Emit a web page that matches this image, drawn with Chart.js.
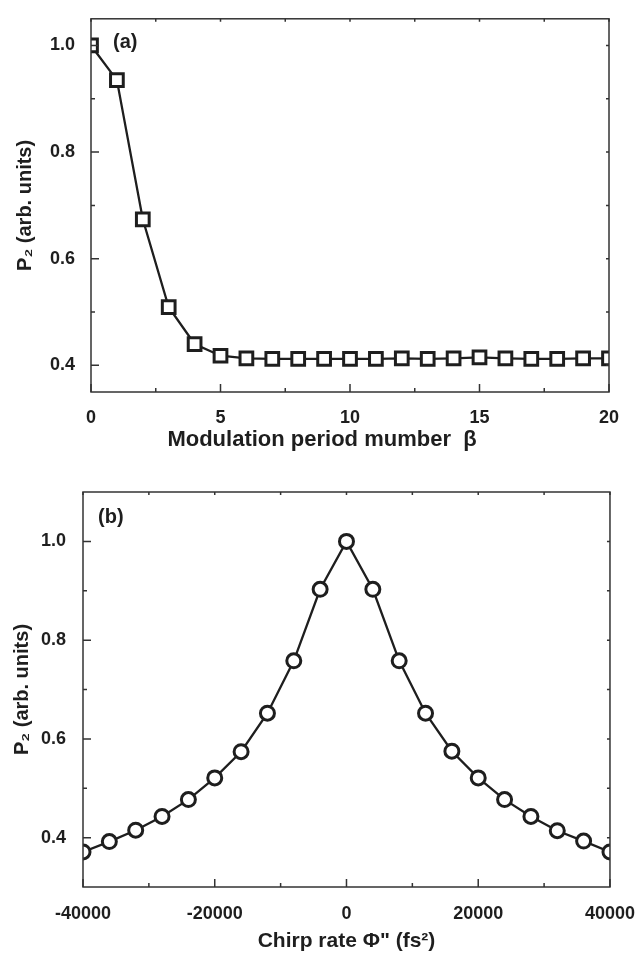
<!DOCTYPE html>
<html><head><meta charset="utf-8">
<script src="https://cdn.jsdelivr.net/npm/chart.js@4/dist/chart.umd.min.js"></script>
<style>
html,body{margin:0;padding:0;background:#fff;width:643px;height:955px;overflow:hidden}
canvas{position:absolute;left:0}
#c1{top:0}
#c2{top:470px}
</style></head><body>
<canvas id="c1" width="643" height="470"></canvas>
<canvas id="c2" width="643" height="485"></canvas>
<script>
// ---- data ----
const periodNumbers = [0,1,2,3,4,5,6,7,8,9,10,11,12,13,14,15,16,17,18,19,20];
const p2ByPeriod = [1.000,0.935,0.674,0.509,0.440,0.418,0.413,0.412,0.412,0.412,0.412,0.412,0.413,0.412,0.413,0.415,0.413,0.412,0.412,0.413,0.413];
const chirpRates = [-40000,-36000,-32000,-28000,-24000,-20000,-16000,-12000,-8000,-4000,0,4000,8000,12000,16000,20000,24000,28000,32000,36000,40000];
const p2ByChirp = [0.371,0.392,0.415,0.443,0.477,0.521,0.574,0.652,0.758,0.903,1.000,0.903,0.758,0.652,0.575,0.521,0.477,0.443,0.414,0.393,0.371];

// ---- tick values ----
const topXMajor = [0,5,10,15,20];
const topXMinor = [2.5,7.5,12.5,17.5];
const topYMajor = [0.4,0.6,0.8,1.0];
const topYMinor = [0.5,0.7,0.9];
const botXMajor = [-40000,-20000,0,20000,40000];
const botXMinor = [-30000,-10000,10000,30000];
const botYMajor = [0.4,0.6,0.8,1.0];
const botYMinor = [0.5,0.7,0.9];

const FONT = "'Liberation Sans', Arial, Helvetica, sans-serif";
const INK = '#1e1e1e';

const frameTicks = {
  id: 'frameTicks',
  afterDatasetsDraw(chart, args, o) {
    const {ctx, chartArea: a, scales: {x, y}} = chart;
    ctx.save();
    ctx.strokeStyle = '#333';
    ctx.lineWidth = 1.5;
    ctx.beginPath();
    const line = (x1,y1,x2,y2)=>{ctx.moveTo(x1,y1);ctx.lineTo(x2,y2);};
    o.xMajor.forEach(v=>{const p=x.getPixelForValue(v); line(p,a.bottom,p,a.bottom-8); line(p,a.top,p,a.top+3);});
    o.xMinor.forEach(v=>{const p=x.getPixelForValue(v); line(p,a.bottom,p,a.bottom-4); line(p,a.top,p,a.top+3);});
    o.yMajor.forEach(v=>{const p=y.getPixelForValue(v); line(a.left,p,a.left+8,p); line(a.right,p,a.right-3,p);});
    o.yMinor.forEach(v=>{const p=y.getPixelForValue(v); line(a.left,p,a.left+4,p); line(a.right,p,a.right-3,p);});
    ctx.stroke();
    ctx.strokeRect(a.left, a.top, a.right-a.left, a.bottom-a.top);
    ctx.fillStyle = INK;
    ctx.font = 'bold 20px ' + FONT;
    ctx.textBaseline = 'middle';
    ctx.textAlign = 'left';
    ctx.fillText(o.label, o.labelX, o.labelY);
    if (o.xTitle) {
      ctx.font = 'bold ' + o.xTitleSize + 'px ' + FONT;
      ctx.textAlign = 'center';
      ctx.fillText(o.xTitle, o.xTitleX, o.xTitleY);
    }
    ctx.restore();
  }
};

function makeChart(id, cfg) {
  const xs = cfg.xVals, ys = cfg.yVals;
  return new Chart(document.getElementById(id), {
    type: 'line',
    data: { datasets: [{
      data: xs.map((v,i)=>({x:v, y:ys[i]})),
      borderColor: INK, borderWidth: 2.3,
      pointStyle: cfg.pointStyle, pointRadius: cfg.pointRadius,
      pointBackgroundColor: '#fff', pointBorderColor: INK, pointBorderWidth: 3,
      tension: 0, clip: 0
    }]},
    plugins: [frameTicks],
    options: {
      responsive: false, animation: false, devicePixelRatio: 1,
      layout: { padding: { left: 0, top: cfg.top, right: cfg.right, bottom: 0 } },
      plugins: {
        legend: {display:false}, tooltip:{enabled:false},
        frameTicks: { xMajor: cfg.xMajor, xMinor: cfg.xMinor, yMajor: cfg.yMajor, yMinor: cfg.yMinor,
          label: cfg.label, labelX: cfg.labelX, labelY: cfg.labelY,
          xTitle: cfg.ownTitle ? cfg.xTitle : null, xTitleX: cfg.xTitleX, xTitleY: cfg.xTitleY,
          xTitleSize: cfg.xTitleSize }
      },
      scales: {
        x: {
          type: 'linear', min: cfg.xMin, max: cfg.xMax,
          grid: {display:false}, border: {display:false},
          afterBuildTicks: s => { s.ticks = cfg.xMajor.map(v=>({value:v})); },
          afterFit: s => { s.height = cfg.xAxisH; },
          ticks: { padding: cfg.xPad, color: INK, font: {family: FONT, size: 18, weight: 'bold'},
            maxRotation: 0, autoSkip: false, callback: v => String(v) },
          title: { display: !cfg.ownTitle, text: cfg.xTitle, color: INK,
            font: {family: FONT, size: cfg.xTitleSize, weight: 'bold'}, padding: {top:0, bottom: cfg.xTitlePad} }
        },
        y: {
          type: 'linear', min: cfg.yMin, max: cfg.yMax,
          grid: {display:false}, border: {display:false},
          afterBuildTicks: s => { s.ticks = cfg.yMajor.map(v=>({value:v})); },
          afterFit: s => { s.width = cfg.yAxisW; },
          ticks: { padding: cfg.yPad, color: INK, font: {family: FONT, size: 18, weight: 'bold'},
            callback: v => Number(v).toFixed(1) },
          title: { display: true, text: 'P₂ (arb. units)', color: INK,
            font: {family: FONT, size: 20, weight: 'bold'}, padding: {top: cfg.yTitlePad, bottom: 0} }
        }
      }
    }
  });
}

makeChart('c1', {
  xVals: periodNumbers, yVals: p2ByPeriod, pointStyle: 'rect', pointRadius: 9,
  xMin: 0, xMax: 20, yMin: 0.35, yMax: 1.05,
  xMajor: topXMajor, xMinor: topXMinor, yMajor: topYMajor, yMinor: topYMinor,
  top: 15, right: 34, xAxisH: 78, yAxisW: 91, xPad: 7, yPad: 8,
  xTitle: 'Modulation period mumber  β', ownTitle: true, xTitleX: 322, xTitleY: 440,
  xTitleSize: 22,
  xTitlePad: 18, yTitlePad: 13,
  label: '(a)', labelX: 113, labelY: 42
});

makeChart('c2', {
  xVals: chirpRates, yVals: p2ByChirp, pointStyle: 'circle', pointRadius: 7,
  xMin: -40000, xMax: 40000, yMin: 0.3, yMax: 1.1,
  xMajor: botXMajor, xMinor: botXMinor, yMajor: botYMajor, yMinor: botYMinor,
  top: 22, right: 30, xAxisH: 68, yAxisW: 83, xPad: 8, yPad: 9,
  xTitle: 'Chirp rate Φ" (fs²)', ownTitle: false, xTitleSize: 21, xTitlePad: 1, yTitlePad: 10,
  label: '(b)', labelX: 98, labelY: 47
});
</script>
</body></html>
